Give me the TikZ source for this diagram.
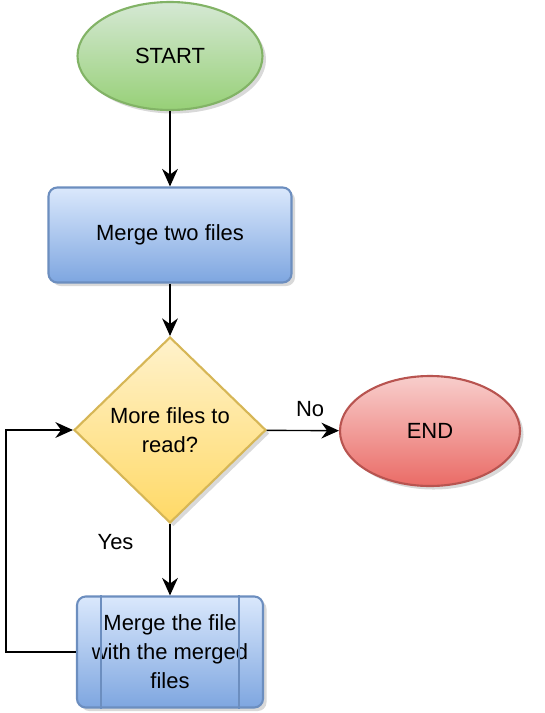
\documentclass[tikz,border=0pt]{standalone}
\usepackage{fontspec}
\setmainfont{Liberation Sans}
\usetikzlibrary{shapes.geometric,shadows,arrows.meta}
\definecolor{gfill1}{HTML}{D5E8D4}\definecolor{gfill2}{HTML}{97D077}\definecolor{gline}{HTML}{82B366}
\definecolor{bfill1}{HTML}{DAE8FC}\definecolor{bfill2}{HTML}{7EA6E0}\definecolor{bline}{HTML}{6C8EBF}
\definecolor{yfill1}{HTML}{FFF2CC}\definecolor{yfill2}{HTML}{FFD966}\definecolor{yline}{HTML}{D6B656}
\definecolor{rfill1}{HTML}{F8CECC}\definecolor{rfill2}{HTML}{EA6B66}\definecolor{rline}{HTML}{B85450}
\tikzset{
  every node/.style={font=\fontsize{12.5}{16.5}\selectfont},
  shade/.style={drop shadow={opacity=0.3,shadow xshift=2pt,shadow yshift=-2pt}},
  terminal/.style={ellipse,draw=#1line,line width=1.2pt,top color=#1fill1,bottom color=#1fill2,shade},
  procbox/.style={rectangle,rounded corners=5pt,draw=bline,line width=1.2pt,top color=bfill1,bottom color=bfill2,shade},
  decision/.style={diamond,draw=yline,line width=1.2pt,top color=yfill1,bottom color=yfill2,shade,inner sep=0pt},
  flow/.style={-{Stealth[length=10pt,width=9pt]},line width=0.8pt}
}
\begin{document}
\begin{tikzpicture}
  \useasboundingbox (0,0) rectangle (10.88,-14.26);
  \node[terminal=g,minimum width=3.7cm,minimum height=2.16cm] (start) at (3.4,-1.12) {START};
  \node[procbox,minimum width=4.86cm,minimum height=1.9cm] (merge) at (3.4,-4.7) {Merge two files};
  \node[decision,minimum width=3.84cm,minimum height=3.72cm,align=center] (more) at (3.4,-8.6) {More files to\\read?};
  \node[terminal=r,minimum width=3.6cm,minimum height=2.2cm] (end) at (8.6,-8.62) {END};
  \node[procbox,minimum width=3.72cm,minimum height=2.22cm,align=center] (mergefile) at (3.4,-13.04) {Merge the file\\with the merged\\files};
  \draw[bline,line width=1.2pt] ([xshift=0.5cm]mergefile.north west) -- ([xshift=0.5cm]mergefile.south west);
  \draw[bline,line width=1.2pt] ([xshift=-0.5cm]mergefile.north east) -- ([xshift=-0.5cm]mergefile.south east);

  \draw[flow] (start) -- (merge);
  \draw[flow] (merge) -- (more);
  \draw[flow] (more) -- (end) node[pos=0.6,above=4pt]{No};
  \draw[flow] (more) -- (mergefile) node[pos=0.25,left=0.6cm]{Yes};
  \coordinate (loop) at (0.12,-13.04);
  \draw[flow] (mergefile.west) -- (loop) |- (more.west);
\end{tikzpicture}
\end{document}
